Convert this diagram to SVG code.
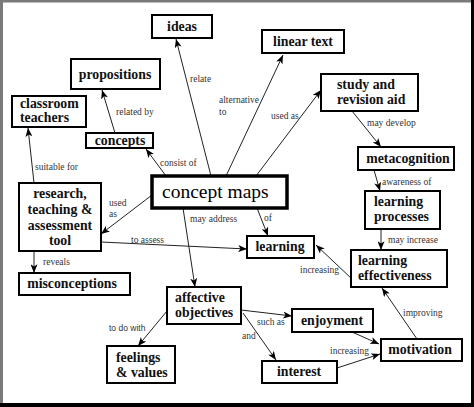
<svg xmlns="http://www.w3.org/2000/svg" width="474" height="407" viewBox="0 0 474 407">
<defs>
<marker id="ah" viewBox="0 0 10 8" refX="10" refY="4" markerWidth="9" markerHeight="7" orient="auto" markerUnits="userSpaceOnUse">
<path d="M0,0 L10,4 L0,8 L2.5,4 z" fill="#000"/>
</marker>
</defs>
<style>
.box{fill:#fff;stroke:#000;stroke-width:2}
.main{fill:#fff;stroke:#000;stroke-width:3.5}
text{font-family:"Times New Roman",Times,Tinos,"Liberation Serif","Noto Serif","DejaVu Serif",serif}
.t{font-size:13.8px;font-weight:bold;fill:#111}
.tc{text-anchor:middle}
.big{font-size:19.5px;fill:#000}
.lb{font-size:9.5px;fill:#333}
.ls{font-family:"Liberation Sans",Arial,sans-serif;font-size:8.5px;fill:#333}
.c{stroke:#222;stroke-width:1;fill:none;marker-end:url(#ah)}
</style>
<rect x="0" y="0" width="474" height="407" fill="#fff"/>
<rect x="0" y="0" width="474" height="2.5" fill="#7a7a7a"/>
<rect x="0" y="0" width="3" height="407" fill="#7a7a7a"/>
<rect x="471" y="0" width="3" height="407" fill="#000"/>
<rect x="0" y="403" width="474" height="4" fill="#000"/>

<g id="connectors">
<line class="c" x1="211" y1="176" x2="176" y2="39"/>
<line class="c" x1="226" y1="176" x2="283" y2="55"/>
<line class="c" x1="256" y1="176" x2="321" y2="90"/>
<line class="c" x1="352" y1="111" x2="381" y2="147"/>
<line class="c" x1="374" y1="170" x2="380" y2="191"/>
<line class="c" x1="381" y1="229" x2="381" y2="250"/>
<line class="c" x1="352" y1="279" x2="316" y2="245"/>
<line class="c" x1="417" y1="339" x2="382" y2="288"/>
<line class="c" x1="352" y1="332" x2="379" y2="344"/>
<line class="c" x1="337" y1="368" x2="380" y2="354"/>
<line class="c" x1="241" y1="310" x2="292" y2="316"/>
<line class="c" x1="243" y1="313" x2="276" y2="360"/>
<line class="c" x1="167" y1="311" x2="138" y2="346"/>
<line class="c" x1="183" y1="208" x2="195" y2="287"/>
<line class="c" x1="257" y1="208" x2="268" y2="236"/>
<line class="c" x1="152" y1="195" x2="101" y2="234"/>
<line class="c" x1="101" y1="242" x2="247" y2="249"/>
<line class="c" x1="34" y1="183" x2="28" y2="128"/>
<line class="c" x1="34" y1="251" x2="34" y2="273"/>
<line class="c" x1="115" y1="133" x2="102" y2="90"/>
<line class="c" x1="166" y1="176" x2="146" y2="149"/>
<text class="lb" x="190" y="82">relate</text>
<text class="lb" x="219" y="103">alternative</text>
<text class="lb" x="219" y="115">to</text>
<text class="lb" x="271" y="119">used as</text>
<text class="lb" x="367" y="126">may develop</text>
<text class="lb" x="116" y="115">related by</text>
<text class="lb" x="160" y="166">consist of</text>
<text class="lb" x="35" y="170">suitable for</text>
<text class="lb" x="109" y="206">used</text>
<text class="lb" x="109" y="217">as</text>
<text class="lb" x="190" y="222">may address</text>
<text class="lb" x="264" y="221">of</text>
<text class="lb" x="131" y="243">to assess</text>
<text class="lb" x="43" y="265">reveals</text>
<text class="lb" x="382" y="185">awareness of</text>
<text class="lb" x="388" y="243">may increase</text>
<text class="lb" x="300" y="273">increasing</text>
<text class="lb" x="403" y="316">improving</text>
<text class="lb" x="257" y="325">such as</text>
<text class="lb" x="242" y="339">and</text>
<text class="lb" x="330" y="354">increasing</text>
<text class="ls" x="109" y="331">to do with</text>
</g>

<g id="ideas"><rect class="box" x="152" y="15" width="60" height="23"/><text class="t tc" x="182" y="31">ideas</text></g>
<g id="linear-text"><rect class="box" x="262" y="30" width="82" height="23"/><text class="t tc" x="303" y="46">linear text</text></g>
<g id="propositions"><rect class="box" x="71" y="59" width="89" height="30"/><text class="t tc" x="115" y="79">propositions</text></g>
<g id="classroom-teachers"><rect class="box" x="12" y="96" width="74" height="31"/><text class="t" x="20" y="108">classroom</text><text class="t" x="20" y="122">teachers</text></g>
<g id="concepts"><rect class="box" x="86" y="133" width="67" height="15"/><text class="t tc" x="120" y="145">concepts</text></g>
<g id="study-revision-aid"><rect class="box" x="321" y="74" width="97" height="37"/><text class="t" x="337" y="89">study and</text><text class="t" x="337" y="104">revision aid</text></g>
<g id="concept-maps"><rect class="main" x="152" y="176" width="135" height="32"/><text class="big" x="162" y="198">concept maps</text></g>
<g id="metacognition"><rect class="box" x="358" y="147" width="96" height="23"/><text class="t tc" x="408" y="163">metacognition</text></g>
<g id="learning-processes"><rect class="box" x="365" y="191" width="75" height="38"/><text class="t" x="374" y="206">learning</text><text class="t" x="374" y="221">processes</text></g>
<g id="learning"><rect class="box" x="247" y="236" width="67" height="22"/><text class="t tc" x="280" y="251">learning</text></g>
<g id="learning-effectiveness"><rect class="box" x="351" y="250" width="96" height="37"/><text class="t" x="358" y="265">learning</text><text class="t" x="358" y="280">effectiveness</text></g>
<g id="research-tool"><rect class="box" x="19" y="183" width="82" height="68"/><text class="t tc" x="60" y="198">research,</text><text class="t tc" x="60" y="214">teaching &amp;</text><text class="t tc" x="60" y="230">assessment</text><text class="t tc" x="60" y="245">tool</text></g>
<g id="misconceptions"><rect class="box" x="19" y="273" width="111" height="22"/><text class="t tc" x="72" y="288">misconceptions</text></g>
<g id="affective-objectives"><rect class="box" x="167" y="287" width="74" height="37"/><text class="t" x="175" y="302">affective</text><text class="t" x="175" y="317">objectives</text></g>
<g id="feelings-values"><rect class="box" x="107" y="346" width="68" height="37"/><text class="t" x="116" y="362">feelings</text><text class="t" x="116" y="377">&amp; values</text></g>
<g id="enjoyment"><rect class="box" x="292" y="309" width="81" height="23"/><text class="t tc" x="332" y="325">enjoyment</text></g>
<g id="motivation"><rect class="box" x="381" y="339" width="81" height="22"/><text class="t tc" x="420" y="354">motivation</text></g>
<g id="interest"><rect class="box" x="262" y="361" width="75" height="22"/><text class="t tc" x="299" y="376">interest</text></g>
</svg>
